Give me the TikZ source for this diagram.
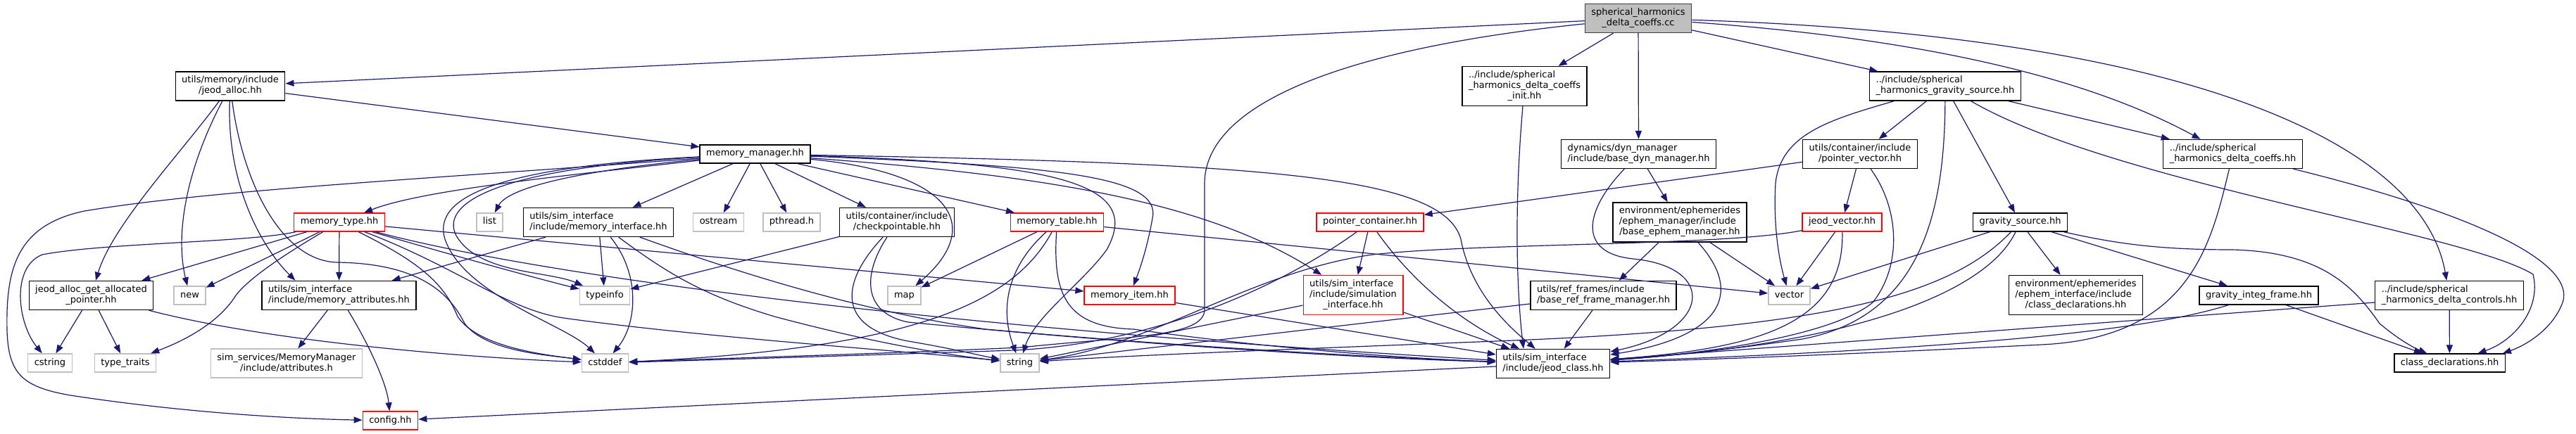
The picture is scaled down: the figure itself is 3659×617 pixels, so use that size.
\documentclass[tikz,border=0pt]{standalone}
\usepackage{fontspec}
\setmainfont{DejaVu Sans}
\usetikzlibrary{arrows.meta}
\definecolor{Edge}{HTML}{191970}
\definecolor{Frame}{HTML}{404040}
\definecolor{Pale}{HTML}{BFBFBF}
% labels: every line but the last one left aligned, the last one centred
\newcommand{\one}[1]{\begin{tabular}{@{}c@{}}#1\end{tabular}}
\newcommand{\two}[2]{\begin{tabular}{@{}l@{}}#1\\\multicolumn{1}{@{}c@{}}{#2}\end{tabular}}
\newcommand{\three}[3]{\begin{tabular}{@{}l@{}}#1\\#2\\\multicolumn{1}{@{}c@{}}{#3}\end{tabular}}
\tikzset{
    filenode/.style={rectangle, draw=black, line width=1.4pt, fill=white, inner xsep=9pt, inner ysep=5.5pt, font=\fontsize{13}{15}\selectfont},
    rootnode/.style={filenode, fill=Pale, draw=Frame},
    sysnode/.style={filenode, draw=Pale},
    cutnode/.style={filenode, draw=red},
    inc/.style={-{Triangle[length=12pt,width=9pt]}, line width=1.2pt, draw=Edge},
}
\begin{document}
\begin{tikzpicture}[x=1pt, y=-1pt]
\useasboundingbox (0,0) rectangle (3659,617);

% Rank 0 and 1
\node[rootnode] (cc) at (2327,26) {\two{spherical\_harmonics}{\_delta\_coeffs.cc}};
\node[filenode] (jalloc) at (327,122.5) {\two{utils/memory/include}{/jeod\_alloc.hh}};
\node[filenode] (init) at (2165.5,122.5) {\three{../include/spherical}{\_harmonics\_delta\_coeffs}{\_init.hh}};
\node[filenode] (shgrav) at (2763,122.5) {\two{../include/spherical}{\_harmonics\_gravity\_source.hh}};

% Rank 2
\node[filenode] (memmgr) at (1072.5,219) {\one{memory\_manager.hh}};
\node[filenode] (dynmgr) at (2327.5,219) {\two{dynamics/dyn\_manager}{/include/base\_dyn\_manager.hh}};
\node[filenode] (ptrvec) at (2642,219) {\two{utils/container/include}{/pointer\_vector.hh}};
\node[filenode] (dcoeffs) at (3171.5,219) {\two{../include/spherical}{\_harmonics\_delta\_coeffs.hh}};

% Rank 3
\node[cutnode] (memtype) at (482,316) {\one{memory\_type.hh}};
\node[sysnode] (list) at (695.5,316) {\one{list}};
\node[filenode] (memiface) at (850,316) {\two{utils/sim\_interface}{/include/memory\_interface.hh}};
\node[sysnode] (ostream) at (1020.5,316) {\one{ostream}};
\node[sysnode] (pthread) at (1124.5,316) {\one{pthread.h}};
\node[filenode] (ckpt) at (1274,316) {\two{utils/container/include}{/checkpointable.hh}};
\node[cutnode] (memtable) at (1501.5,316) {\one{memory\_table.hh}};
\node[cutnode] (ptrcont) at (1946,316) {\one{pointer\_container.hh}};
\node[filenode] (ephmgr) at (2386,316) {\three{environment/ephemerides}{/ephem\_manager/include}{/base\_ephem\_manager.hh}};
\node[cutnode] (jvec) at (2616.5,316) {\one{jeod\_vector.hh}};
\node[filenode] (gsrc) at (2869.5,316) {\one{gravity\_source.hh}};

% Rank 4
\node[filenode] (getptr) at (129.5,420) {\two{jeod\_alloc\_get\_allocated}{\_pointer.hh}};
\node[sysnode] (new) at (269.5,420) {\one{new}};
\node[filenode] (memattr) at (481.5,420) {\two{utils/sim\_interface}{/include/memory\_attributes.hh}};
\node[sysnode] (typeinfo) at (859,420) {\one{typeinfo}};
\node[sysnode] (map) at (1284.5,420) {\one{map}};
\node[cutnode] (memitem) at (1604.5,420) {\one{memory\_item.hh}};
\node[cutnode] (siminter) at (1922,419.5) {\three{utils/sim\_interface}{/include/simulation}{\_interface.hh}};
\node[filenode] (reffrm) at (2277.5,420) {\two{utils/ref\_frames/include}{/base\_ref\_frame\_manager.hh}};
\node[sysnode] (vector) at (2541.5,420) {\one{vector}};
\node[filenode] (ephdecl) at (2948.5,419.5) {\three{environment/ephemerides}{/ephem\_interface/include}{/class\_declarations.hh}};
\node[filenode] (integfrm) at (3208.5,420) {\one{gravity\_integ\_frame.hh}};
\node[filenode] (dctrl) at (3479,420) {\two{../include/spherical}{\_harmonics\_delta\_controls.hh}};

% Rank 5 and 6
\node[sysnode] (cstring) at (71,516) {\one{cstring}};
\node[sysnode] (ttraits) at (178,516) {\one{type\_traits}};
\node[sysnode] (attrh) at (407,516.5) {\two{sim\_services/MemoryManager}{/include/attributes.h}};
\node[sysnode] (cstddef) at (859.5,516) {\one{cstddef}};
\node[sysnode] (string) at (1448.5,516) {\one{string}};
\node[filenode] (jclass) at (2206,517) {\two{utils/sim\_interface}{/include/jeod\_class.hh}};
\node[filenode] (classdecl) at (3479.5,516) {\one{class\_declarations.hh}};
\node[cutnode] (config) at (554.5,598) {\one{config.hh}};

% Includes of the source file
\draw[inc] (cc) -- (jalloc);
\draw[inc] (cc) -- (init);
\draw[inc] (cc) -- (dynmgr);
\draw[inc] (cc) -- (shgrav);
\draw[inc] (cc) .. controls (2800,60) and (3000,130) .. ([xshift=-46pt]dcoeffs.north);
\draw[inc] (cc) .. controls (3100,50) and (3440,200) .. (dctrl);
\draw[inc] (cc) .. controls (1900,70) and (1712,150) .. (1711,260) -- (1711,440) .. controls (1711,480) and (1600,478) .. (1450,494) .. controls (1200,505) and (1000,510) .. (cstddef);

% jeod_alloc.hh
\draw[inc] (jalloc) -- (memmgr);
\draw[inc] (jalloc) .. controls (255,220) and (160,320) .. (getptr);
\draw[inc] (jalloc) .. controls (260,250) and (250,340) .. (new);
\draw[inc] (jalloc) .. controls (322,260) and (370,350) .. ([xshift=-62pt]memattr.north);
\draw[inc] (jalloc) .. controls (345,260) and (400,372) .. (480,373) .. controls (600,375) and (640,420) .. (660,460) .. controls (690,500) and (780,505) .. (cstddef);

% memory_manager.hh
\draw[inc] (memmgr) .. controls (600,255) and (300,270) .. (120,300) .. controls (25,320) and (8,380) .. (10,470) .. controls (12,530) and (30,550) .. (100,562) .. controls (250,585) and (400,595) .. (config);
\draw[inc] (memmgr) .. controls (800,250) and (600,270) .. (memtype);
\draw[inc] (memmgr) .. controls (700,240) and (625,290) .. (648,335) .. controls (680,390) and (780,385) .. (typeinfo);
\draw[inc] (memmgr) .. controls (690,238) and (615,285) .. (632,340) .. controls (660,420) and (800,460) .. (cstddef);
\draw[inc] (memmgr) .. controls (800,245) and (720,270) .. (list);
\draw[inc] (memmgr) -- (memiface);
\draw[inc] (memmgr) -- (ostream);
\draw[inc] (memmgr) -- (pthread);
\draw[inc] (memmgr) -- (ckpt);
\draw[inc] (memmgr) -- (memtable);
\draw[inc] (memmgr) .. controls (1350,245) and (1400,320) .. (map);
\draw[inc] (memmgr) .. controls (1500,232) and (1625,260) .. (1572,355) .. controls (1540,400) and (1470,450) .. (string);
\draw[inc] (memmgr) .. controls (1500,236) and (1650,250) .. (1637,310) .. controls (1630,350) and (1620,380) .. (memitem);
\draw[inc] (memmgr) .. controls (1500,250) and (1720,290) .. (siminter);
\draw[inc] (memmgr) .. controls (1800,232) and (2050,250) .. (2075,340) .. controls (2090,420) and (2150,470) .. (jclass);

% memory_type.hh
\draw[inc] (memtype) .. controls (350,345) and (150,345) .. (60,362) .. controls (15,380) and (25,460) .. (cstring);
\draw[inc] (memtype) -- (getptr);
\draw[inc] (memtype) -- (new);
\draw[inc] (memtype) .. controls (390,370) and (350,400) .. (335,420) .. controls (310,460) and (260,485) .. (ttraits);
\draw[inc] (memtype) -- (memattr);
\draw[inc] (memtype) .. controls (590,370) and (630,400) .. (650,450) .. controls (680,495) and (780,505) .. (cstddef);
\draw[inc] (memtype) .. controls (650,365) and (760,395) .. (typeinfo);
\draw[inc] (memtype) .. controls (650,380) and (720,440) .. (800,452) .. controls (1000,480) and (1300,500) .. (string);
\draw[inc] (memtype) -- (memitem);
\draw[inc] (memtype) .. controls (800,400) and (1400,470) .. (jclass);

% memory_interface.hh
\draw[inc] (memiface) -- (memattr);
\draw[inc] (memiface) -- (typeinfo);
\draw[inc] (memiface) .. controls (910,390) and (905,460) .. (cstddef);
\draw[inc] (memiface) .. controls (950,390) and (1000,420) .. (1100,450) .. controls (1250,490) and (1350,505) .. (string);
\draw[inc] (memiface) .. controls (1000,370) and (1200,440) .. (1400,468) .. controls (1700,495) and (2000,510) .. (jclass);

% checkpointable.hh
\draw[inc] (ckpt) -- (typeinfo);
\draw[inc] (ckpt) .. controls (1195,400) and (1185,465) .. (1290,485) .. controls (1350,495) and (1390,505) .. (string);
\draw[inc] (ckpt) .. controls (1225,390) and (1225,445) .. (1290,458) .. controls (1600,488) and (1900,508) .. (jclass);

% memory_table.hh
\draw[inc] (memtable) -- (map);
\draw[inc] (memtable) .. controls (1430,380) and (1420,440) .. (string);
\draw[inc] (memtable) .. controls (1440,430) and (1300,495) .. (cstddef);
\draw[inc] (memtable) .. controls (1495,420) and (1515,465) .. (1610,468) .. controls (1800,495) and (2000,510) .. (jclass);
\draw[inc] (memtable) -- (vector);
\draw[inc] (memitem) -- (jclass);

% pointer_container.hh, simulation_interface.hh
\draw[inc] (ptrcont) -- (siminter);
\draw[inc] (ptrcont) .. controls (2020,420) and (2100,470) .. (jclass);
\draw[inc] (ptrcont) .. controls (1830,400) and (1650,488) .. (1440,498) .. controls (1200,506) and (1000,512) .. (cstddef);
\draw[inc] (siminter) -- (string);
\draw[inc] (siminter) -- (jclass);

% dynamics and ephemerides
\draw[inc] (dynmgr) -- (ephmgr);
\draw[inc] (dynmgr) .. controls (2250,300) and (2240,360) .. (2320,368) .. controls (2440,380) and (2430,470) .. (jclass);
\draw[inc] (ephmgr) -- (reffrm);
\draw[inc] (ephmgr) .. controls (2480,420) and (2440,480) .. (jclass);
\draw[inc] (ephmgr) -- (vector);
\draw[inc] (reffrm) -- (jclass);
\draw[inc] (reffrm) -- (string);

% pointer_vector.hh, jeod_vector.hh
\draw[inc] (ptrvec) -- (ptrcont);
\draw[inc] (ptrvec) -- (jvec);
\draw[inc] (ptrvec) .. controls (2700,300) and (2700,380) .. (2660,430) .. controls (2600,480) and (2400,505) .. (jclass);
\draw[inc] (jvec) -- (vector);
\draw[inc] (jvec) .. controls (2620,460) and (2500,495) .. (jclass);
\draw[inc] (jvec) .. controls (2450,350) and (2100,345) .. (1950,362) .. controls (1780,385) and (1640,490) .. (string);

% spherical harmonics headers
\draw[inc] (shgrav) -- (ptrvec);
\draw[inc] (shgrav) -- (gsrc);
\draw[inc] (shgrav) -- (dcoeffs);
\draw[inc] (shgrav) .. controls (2600,170) and (2530,190) .. (2522,260) .. controls (2518,330) and (2530,380) .. (vector);
\draw[inc] (shgrav) .. controls (2762,300) and (2730,450) .. (2560,482) .. controls (2450,498) and (2350,508) .. (jclass);
\draw[inc] (shgrav) .. controls (3000,260) and (3500,330) .. (3598,390) .. controls (3610,440) and (3570,485) .. (classdecl);
\draw[inc] (dcoeffs) .. controls (3140,350) and (3110,480) .. (2900,490) .. controls (2600,505) and (2400,512) .. (jclass);
\draw[inc] (dcoeffs) .. controls (3500,300) and (3660,370) .. (3640,430) .. controls (3625,470) and (3585,492) .. ([xshift=-4pt]classdecl.north east);

% gravity_source.hh
\draw[inc] (gsrc) -- (vector);
\draw[inc] (gsrc) .. controls (2820,420) and (2620,490) .. (jclass);
\draw[inc] (gsrc) .. controls (2770,420) and (2600,465) .. (2150,484) .. controls (1900,494) and (1600,505) .. (string);
\draw[inc] (gsrc) -- (ephdecl);
\draw[inc] (gsrc) -- (integfrm);
\draw[inc] (gsrc) .. controls (3000,345) and (3060,355) .. (3170,355) .. controls (3300,358) and (3345,410) .. (3380,460) .. controls (3410,485) and (3430,495) .. (classdecl);
\draw[inc] (integfrm) .. controls (3050,470) and (2800,495) .. (jclass);
\draw[inc] (integfrm) -- (classdecl);
\draw[inc] ([yshift=-10pt]dctrl.west) -- (jclass);
\draw[inc] (dctrl) -- (classdecl);

% lower leaves
\draw[inc] (memattr) -- (attrh);
\draw[inc] (memattr) .. controls (530,500) and (550,550) .. (config);
\draw[inc] (getptr) -- (cstring);
\draw[inc] (getptr) -- (ttraits);
\draw[inc] (getptr) .. controls (400,490) and (700,510) .. (cstddef);
\draw[inc] (init) .. controls (2150,300) and (2155,420) .. ([xshift=-42pt]jclass.north);
\draw[inc] (jclass) -- (config);
\end{tikzpicture}
\end{document}
